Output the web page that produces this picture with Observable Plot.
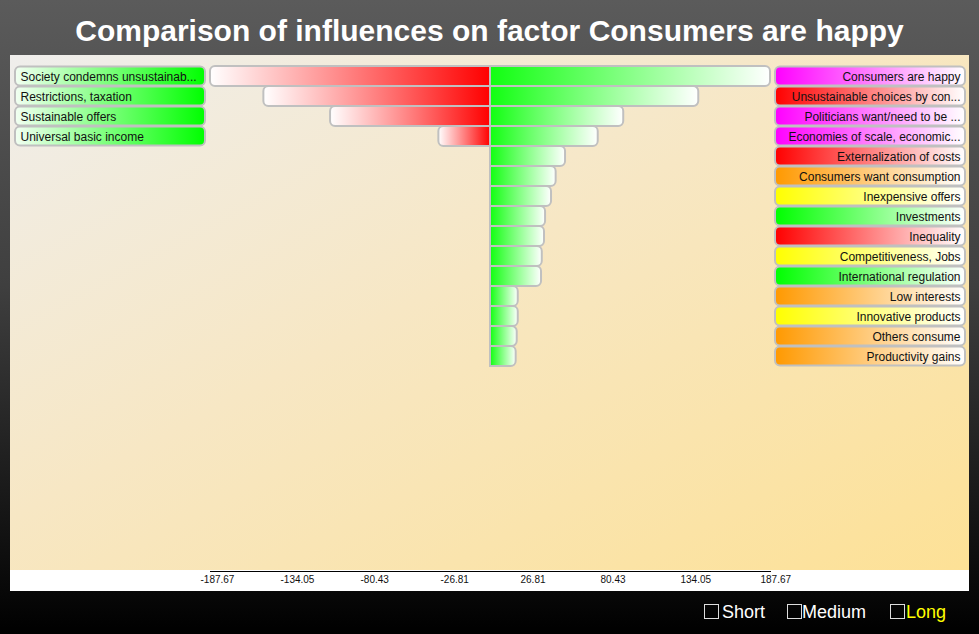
<!DOCTYPE html>
<html>
<head>
<meta charset="utf-8">
<script src="https://cdn.jsdelivr.net/npm/d3@7"></script>
<script src="https://cdn.jsdelivr.net/npm/@observablehq/plot@0.6"></script>
<style>
  html, body { margin: 0; padding: 0; }
  body { width: 979px; height: 634px; overflow: hidden; position: relative;
         background: linear-gradient(#5b5b5b 0%, #3f3f3f 45%, #000 100%);
         font-family: "Liberation Sans", Arial, sans-serif; }
  #title { position: absolute; left: 0; top: 14px; width: 979px; text-align: center;
           color: #fff; font-weight: bold; font-size: 30px; line-height: 34px; }
  #panel { position: absolute; left: 10px; top: 55px; width: 959px; height: 515px;
           background: linear-gradient(to bottom right, #efeeec 0%, #f7e7c4 45%, #fde196 100%); }
  #strip { position: absolute; left: 10px; top: 570px; width: 959px; height: 21px; background: #fff; }
  #chart { position: absolute; left: 10px; top: 55px; }
  .cb { position: absolute; top: 604px; width: 13px; height: 13px; border: 1px solid #ddd; }
  .lab { position: absolute; top: 602px; font-size: 18px; line-height: 20px; color: #fff; }
</style>
</head>
<body>
<div id="title">Comparison of influences on factor Consumers are happy</div>
<div id="panel"></div>
<div id="strip"></div>
<div id="chart"></div>
<div class="cb" style="left:704px"></div><div class="lab" style="left:722px">Short</div>
<div class="cb" style="left:787px"></div><div class="lab" style="left:802px">Medium</div>
<div class="cb" style="left:890px"></div><div class="lab" style="left:906px;color:#ffff00">Long</div>
<script>
// ---- data ----
const leftLabels = ["Society condemns unsustainab...", "Restrictions, taxation", "Sustainable offers", "Universal basic income"];
const leftValues = [-187.67, -151.9, -107.2, -34.6];
const leftColors = ["green", "green", "green", "green"];

const rightLabels = ["Consumers are happy", "Unsustainable choices by con...", "Politicians want/need to be ...",
  "Economies of scale, economic...", "Externalization of costs", "Consumers want consumption",
  "Inexpensive offers", "Investments", "Inequality", "Competitiveness, Jobs", "International regulation",
  "Low interests", "Innovative products", "Others consume", "Productivity gains"];
const rightValues = [187.67, 139.6, 89.3, 72.2, 50.3, 44.0, 40.9, 36.9, 36.2, 34.7, 34.2, 18.6, 18.6, 17.9, 17.2];
const rightColors = ["magenta", "red", "magenta", "magenta", "red", "orange", "yellow", "green", "red",
  "yellow", "green", "orange", "yellow", "orange", "orange"];

const xTicks = [-187.67, -134.05, -80.43, -26.81, 26.81, 80.43, 134.05, 187.67];

const palette = {magenta: "#ff00ff", red: "#ff0000", orange: "#ff9900", yellow: "#ffff00", green: "#00ff00"};

// ---- build ----
const leftRows = leftLabels.map((label, i) => ({i, label, value: leftValues[i], color: leftColors[i]}));
const rightRows = rightLabels.map((label, i) => ({i, label, value: rightValues[i], color: rightColors[i]}));
const M = d3.max([...leftValues, ...rightValues].map(Math.abs));
const nRows = Math.max(leftRows.length, rightRows.length);

const strokeC = "#c0c0c0";
const marks = [];

// left label boxes (all green)
marks.push(Plot.barX(leftRows, {x1: -M, x2: -M, y: "i", insetLeft: -195, insetRight: 5,
  insetTop: 0.5, insetBottom: 0.5, rx: 5, fill: "url(#gLeftLab)", stroke: strokeC, strokeWidth: 2}));
// right label boxes, by colour
for (const c of Object.keys(palette)) {
  const rows = rightRows.filter(d => d.color === c);
  if (!rows.length) continue;
  marks.push(Plot.barX(rows, {x1: M, x2: M, y: "i", insetLeft: 5, insetRight: -195,
    insetTop: 0.5, insetBottom: 0.5, rx: 5, fill: `url(#gLab-${c})`, stroke: strokeC, strokeWidth: 2}));
}
// bars
marks.push(Plot.barX(leftRows, {x1: "value", x2: 0, y: "i", insetTop: 0, insetBottom: 0,
  rx1: 5, fill: "url(#gRedBar)", stroke: strokeC, strokeWidth: 2}));
marks.push(Plot.barX(rightRows, {x1: 0, x2: "value", y: "i", insetTop: 0, insetBottom: 0,
  rx2: 5, fill: "url(#gGreenBar)", stroke: strokeC, strokeWidth: 2}));
// labels
marks.push(Plot.text(leftRows, {x: -M, y: "i", text: "label", textAnchor: "start", dx: -190, dy: 0.5,
  fill: "#111", fontSize: 12}));
marks.push(Plot.text(rightRows, {x: M, y: "i", text: "label", textAnchor: "end", dx: 190, dy: 0.5,
  fill: "#111", fontSize: 12}));
// axis
marks.push(Plot.frame({anchor: "bottom", stroke: "#000", strokeWidth: 1}));
marks.push(Plot.axisX({ticks: xTicks, tickSize: 0, tickPadding: 4, tickFormat: d => d.toFixed(2),
  textAnchor: "start", dx: -10, fontSize: 10, fill: "#111", label: null}));

const chart = Plot.plot({
  width: 959,
  height: 535,
  marginLeft: 200,
  marginRight: 199,
  marginTop: 0,
  marginBottom: 19,
  style: {background: "transparent", fontFamily: "'Liberation Sans', Arial, sans-serif", overflow: "visible"},
  x: {domain: [-M, M], axis: null},
  y: {type: "band", domain: d3.range(nRows), range: [11, 11 + 20 * nRows], padding: 0, axis: null},
  marks
});

// gradient definitions
const svg = d3.select(chart.tagName.toLowerCase() === "svg" ? chart : chart.querySelector("svg"));
const defs = svg.insert("defs", ":first-child");
function grad(id, c0, c1) {
  const g = defs.append("linearGradient").attr("id", id).attr("x1", "0").attr("x2", "1").attr("y1", "0").attr("y2", "0");
  g.append("stop").attr("offset", "0%").attr("stop-color", c0);
  g.append("stop").attr("offset", "100%").attr("stop-color", c1);
}
grad("gRedBar", "#ffffff", "#ff0000");
grad("gGreenBar", "#11ff11", "#ffffff");
grad("gLeftLab", "#f2fff2", "#00ff00");
for (const [k, v] of Object.entries(palette)) grad(`gLab-${k}`, v, "#ffffff");

document.getElementById("chart").appendChild(chart);
</script>
</body>
</html>
